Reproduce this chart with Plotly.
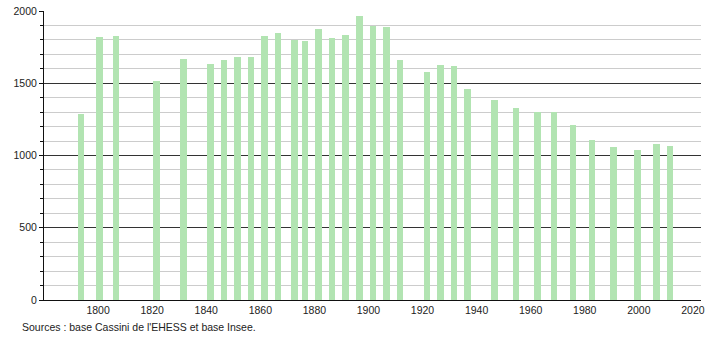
import plotly.graph_objects as go

years = [1793, 1800, 1806, 1821, 1831, 1841, 1846, 1851, 1856, 1861, 1866, 1872,
         1876, 1881, 1886, 1891, 1896, 1901, 1906, 1911, 1921, 1926, 1931, 1936,
         1946, 1954, 1962, 1968, 1975, 1982, 1990, 1999, 2006, 2011]
population = [1286, 1818, 1828, 1514, 1666, 1636, 1659, 1685, 1680, 1827, 1846, 1800,
              1791, 1873, 1811, 1832, 1963, 1899, 1887, 1659, 1576, 1625, 1618, 1459,
              1383, 1330, 1300, 1300, 1210, 1108, 1058, 1037, 1083, 1065]
x_ticks = [1800, 1820, 1840, 1860, 1880, 1900, 1920, 1940, 1960, 1980, 2000, 2020]
y_ticks = [0, 500, 1000, 1500, 2000]
source = "Sources : base Cassini de l'EHESS et base Insee."

fig = go.Figure(go.Bar(
    x=years, y=population,
    width=2.4, offset=-0.6,
    marker=dict(color="#b2e4b2", line=dict(width=0)),
    hoverinfo="x+y",
))

fig.update_layout(
    width=710, height=340,
    margin=dict(l=44, r=9, t=11, b=40, autoexpand=False),
    paper_bgcolor="white", plot_bgcolor="white",
    font=dict(family="Liberation Sans, Arial, sans-serif", size=10.5, color="#222"),
    showlegend=False,
    bargap=0,
)
fig.update_xaxes(
    range=[1780, 2023], automargin=False,
    tickvals=x_ticks, ticktext=[str(v) for v in x_ticks],
    showgrid=False, zeroline=False,
    showline=True, linecolor="#111", linewidth=1,
    ticks="", ticklen=0,
)
fig.update_yaxes(
    range=[0, 2000], automargin=False,
    tickvals=y_ticks, ticktext=[str(v) for v in y_ticks],
    showgrid=True, gridcolor="#333", gridwidth=1,
    zeroline=False,
    showline=True, linecolor="#111", linewidth=1,
    ticks="outside", ticklen=4, tickcolor="#111",
    minor=dict(dtick=100, tick0=0, showgrid=True, gridcolor="#cccccc", gridwidth=1,
               ticks="outside", ticklen=3, tickcolor="#111"),
)
fig.add_annotation(
    text=source, xref="paper", yref="paper",
    x=(20 - 44) / 657, y=-27 / 289, xanchor="left", yanchor="middle",
    showarrow=False, font=dict(size=10.5, color="#222"),
)
fig.write_html("out.html")
